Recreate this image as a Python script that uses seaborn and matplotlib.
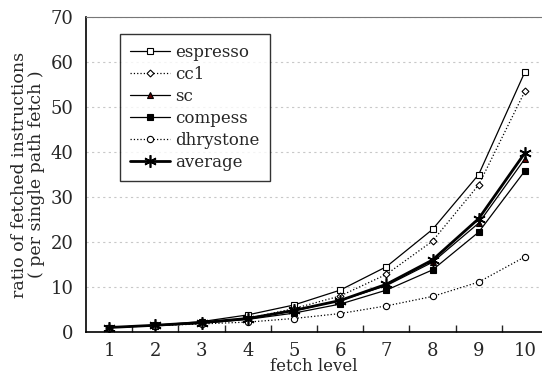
import matplotlib
matplotlib.use("Agg")
import matplotlib.pyplot as plt
import pandas as pd
import seaborn as sns

levels = [1, 2, 3, 4, 5, 6, 7, 8, 9, 10]
espresso = [1.0, 1.5, 2.3, 3.8, 6.0, 9.3, 14.5, 22.8, 35.0, 57.8]
cc1 = [1.0, 1.5, 2.0, 3.0, 5.2, 8.0, 12.8, 20.2, 32.7, 53.5]
sc = [1.0, 1.5, 2.0, 3.0, 4.7, 7.0, 10.3, 15.5, 24.2, 38.5]
compess = [1.0, 1.4, 1.9, 2.8, 4.2, 6.2, 9.3, 13.8, 22.2, 35.8]
dhrystone = [1.0, 1.4, 1.8, 2.2, 3.0, 4.1, 5.8, 7.9, 11.1, 16.7]
average = [1.0, 1.5, 2.1, 3.0, 4.8, 7.0, 10.6, 16.0, 25.2, 39.8]

series = {
    "espresso": espresso,
    "cc1": cc1,
    "sc": sc,
    "compess": compess,
    "dhrystone": dhrystone,
    "average": average,
}

styles = {
    "espresso": dict(marker="s", ms=5, mfc="white", mec="black", ls="-", lw=0.9),
    "cc1": dict(marker="D", ms=3.5, mfc="white", mec="black", ls=":", lw=0.9),
    "sc": dict(marker="^", ms=4, mfc="#5a0000", mec="black", ls="-", lw=0.9),
    "compess": dict(marker="s", ms=5, mfc="black", mec="black", ls="-", lw=0.9),
    "dhrystone": dict(marker="o", ms=4.5, mfc="white", mec="black", ls=":", lw=0.9),
    "average": dict(marker=(6, 2, 0), ms=9, mfc="black", mec="black", ls="-", lw=2.0, mew=1.2),
}

sns.set_style("white")
plt.rcParams["font.family"] = ["DejaVu Serif"]

fig = plt.figure(figsize=(5.42, 3.83), dpi=100)
ax = fig.add_axes([86 / 542, 51 / 383, 456 / 542, 315 / 383])

df = pd.DataFrame(series)
df["level"] = levels
for name in series:
    st = styles[name]
    sns.lineplot(data=df, x="level", y=name, ax=ax, color="black", label=name,
                 marker=st["marker"], markersize=st["ms"], markerfacecolor=st["mfc"],
                 markeredgecolor=st["mec"], linestyle=st["ls"], linewidth=st["lw"],
                 markeredgewidth=st.get("mew", 0.8))

ax.set_xlim(0.5, 10.37)
ax.set_ylim(0, 70)
ax.set_xticks(levels)
ax.set_xticks([x + 0.5 for x in levels[:-1]], minor=True)
ax.set_yticks(range(0, 71, 10))
ax.tick_params(axis="x", which="major", length=0, labelsize=13, pad=7)
ax.tick_params(axis="x", which="minor", direction="in", length=5, width=1, bottom=True)
ax.tick_params(axis="y", which="major", length=0, labelsize=13, pad=9)
ax.yaxis.grid(True, color="#c8c8c8", linestyle=(0, (2, 3)), linewidth=0.8)
ax.set_axisbelow(True)

for s in ["left", "bottom"]:
    ax.spines[s].set_color("black")
    ax.spines[s].set_linewidth(1.2)
ax.spines["top"].set_color("#777777")
ax.spines["top"].set_linewidth(0.8)
ax.spines["right"].set_visible(False)

ax.set_xlabel("fetch level", fontsize=12, labelpad=-1)
ax.set_ylabel("ratio of fetched instructions\n( per single path fetch )", fontsize=12.5,
              labelpad=4, linespacing=1.0)

leg = ax.legend(loc="upper left", bbox_to_anchor=(0.075, 0.945), borderaxespad=0,
                frameon=True, fancybox=False, shadow=False, fontsize=12,
                handlelength=2.4, borderpad=0.6, labelspacing=0.3, handletextpad=0.3)
leg.get_frame().set_edgecolor("black")
leg.get_frame().set_linewidth(1.0)

fig.savefig("out.png", dpi=100)
